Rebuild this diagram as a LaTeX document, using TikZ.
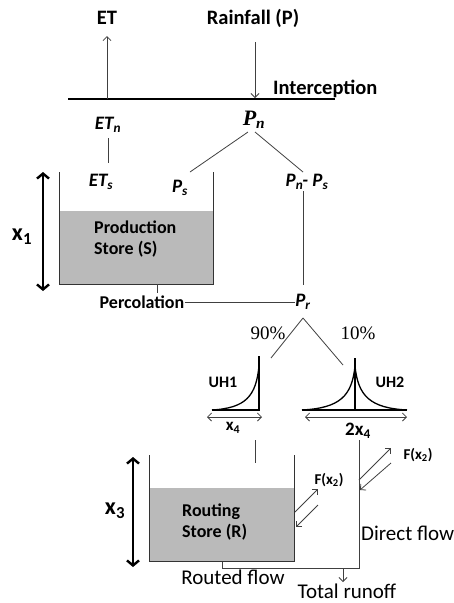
\documentclass[tikz,border=0pt]{standalone}
\usepackage{fontspec}
\setmainfont{Carlito}
\newfontfamily\serifmath{Liberation Serif}
\usetikzlibrary{arrows.meta}
\tikzset{
  lbl/.style={inner sep=0pt, font=\bfseries\fontsize{20.5}{23}\selectfont},
  mid/.style={inner sep=0pt, font=\bfseries\fontsize{18}{21}\selectfont},
  sml/.style={inner sep=0pt, font=\bfseries\fontsize{16}{18}\selectfont},
  big/.style={inner sep=0pt, font=\fontsize{21}{23}\selectfont},
  mth/.style={inner sep=0pt, font=\bfseries\itshape\fontsize{19}{21}\selectfont},
  smth/.style={inner sep=0pt, font=\serifmath\bfseries\itshape\fontsize{22}{24}\selectfont},
  pct/.style={inner sep=0pt, font=\serifmath\fontsize{19}{21}\selectfont},
  xl/.style={inner sep=0pt, font=\bfseries\fontsize{24}{26}\selectfont},
  ln/.style={draw=black!75, line width=0.8pt},
  arr/.style={ln, -{Straight Barb[length=4pt,width=8pt]}},
  darr/.style={ln, {Straight Barb[length=4pt,width=8pt]}-{Straight Barb[length=4pt,width=8pt]}},
  bigarr/.style={draw=black, line width=2.4pt, {Straight Barb[length=5pt,width=12pt]}-{Straight Barb[length=5pt,width=12pt]}},
  wall/.style={draw=black!80, line width=1pt},
  water/.style={fill=black!27},
  uh/.style={draw=black, line width=1.3pt}
}
\begin{document}
\begin{tikzpicture}[x=1pt,y=-1pt]
\useasboundingbox (0,0) rectangle (453,603);

% top
\node[lbl] (ET) at (107,18) {ET};
\node[lbl] (rain) at (253,18) {Rainfall (P)};
\coordinate (intL) at (68,99);
\coordinate (intR) at (335,99);
\draw[draw=black, line width=2.4pt] (intL) -- (intR);
\node[lbl, anchor=west] (intc) at (273,89) {Interception};
\coordinate (etBase) at (107,99);
\coordinate (etTip) at (107,36);
\draw[arr] (etBase) -- (etTip);
\coordinate (rainTop) at (255,42);
\coordinate (rainTip) at (255,98);
\draw[arr] (rainTop) -- (rainTip);

\node[mth] (ETn) at (108,125) {ET\textsubscript{n}};
\node[smth] (Pn) at (254,120) {P\textsubscript{n}};
\coordinate (etA) at (108,138);
\coordinate (etB) at (108,163);
\draw[ln] (etA) -- (etB);

\node[mth] (ETs) at (101,182) {ET\textsubscript{s}};
\node[mth] (Ps) at (180,188) {P\textsubscript{s}};
\node[mth] (PnPs) at (307,182) {P\textsubscript{n}\kern-1pt- P\textsubscript{s}};
\coordinate (pnL) at (248,132);
\coordinate (psT) at (190,172);
\coordinate (pnR) at (255,132);
\coordinate (pnpsT) at (303,172);
\draw[ln] (pnL) -- (psT);
\draw[ln] (pnR) -- (pnpsT);
\coordinate (pnpsB) at (303,191);
\coordinate (prT) at (303,285);
\draw[ln] (pnpsB) -- (prT);

% production store
\fill[water] (59,211) rectangle (213,284);
\draw[wall] (59,172) -- (59,284) -- (213,284) -- (213,172);
\node[mid, anchor=west, align=left] (prod) at (94,239) {Production\\Store (S)};
\coordinate (x1T) at (43,172);
\coordinate (x1B) at (43,291);
\draw[bigarr] (x1T) -- (x1B);
\node[xl] (x1) at (22,237) {x\textsubscript{1}};

% percolation
\coordinate (percA) at (157,284);
\coordinate (percB) at (157,293);
\draw[ln] (percA) -- (percB);
\node[mid] (perc) at (142,302) {Percolation};
\node[mth] (Pr) at (303,302) {P\textsubscript{r}};
\draw[ln] (perc.east) -- (Pr.west);

% split
\coordinate (prApex) at (303,318);
\coordinate (uh1T) at (271,358);
\coordinate (uh2T) at (343,365);
\draw[ln] (prApex) -- (uh1T);
\draw[ln] (prApex) -- (uh2T);
\node[pct] (p90) at (268,333) {90\%};
\node[pct] (p10) at (358,333) {10\%};

% UH1
\draw[uh] (212,410) -- (259,410) -- (259,356);
\draw[uh] (212,410) .. controls (246,408) and (256,396) .. (259,366);
\node[sml] (UH1) at (223,382) {UH1};
\coordinate (x4L) at (207,417);
\coordinate (x4R) at (262,417);
\draw[darr] (x4L) -- (x4R);
\node[inner sep=0pt, font=\bfseries\fontsize{17}{19}\selectfont] (x4) at (233,428) {x\textsubscript{4}};

% UH2
\draw[uh] (302,410) -- (407,410);
\draw[uh] (355,410) -- (355,358);
\draw[uh] (302,410) .. controls (340,408) and (352,396) .. (355,366)
              .. controls (358,396) and (370,408) .. (407,410);
\node[sml] (UH2) at (390,382) {UH2};
\coordinate (x42L) at (305,417);
\coordinate (x42R) at (407,417);
\draw[darr] (x42L) -- (x42R);
\node[inner sep=0pt, font=\bfseries\fontsize{19}{21}\selectfont] (x42) at (358,431) {2x\textsubscript{4}};

% flows down
\coordinate (uh1oA) at (255,440);
\coordinate (uh1oB) at (255,463);
\draw[ln] (uh1oA) -- (uh1oB);
\coordinate (dfT) at (359,440);
\coordinate (dfB) at (359,568);
\coordinate (rfA) at (222,561);
\coordinate (rfB) at (222,568);
\draw[ln] (dfT) -- (dfB) -- (rfB) -- (rfA);

% routing store
\fill[water] (149,488) rectangle (294,561);
\draw[wall] (149,455) -- (149,561) -- (294,561) -- (294,455);
\node[mid, anchor=west, align=left] (rout) at (182,522) {Routing\\Store (R)};
\coordinate (x3T) at (133,457);
\coordinate (x3B) at (133,567);
\draw[bigarr] (x3T) -- (x3B);
\node[xl] (x3) at (115,511) {x\textsubscript{3}};

% F(x2) exchanges
\coordinate (f1a) at (295,512);
\coordinate (f1b) at (318,489);
\coordinate (f1c) at (318,505);
\coordinate (f1d) at (296,527);
\draw[arr] (f1a) -- (f1b);
\draw[arr] (f1c) -- (f1d);
\node[inner sep=0pt, font=\bfseries\fontsize{15}{17}\selectfont] (F1) at (329,480) {F(x\textsubscript{2})};
\coordinate (f2a) at (359,480);
\coordinate (f2b) at (391,448);
\coordinate (f2c) at (391,463);
\coordinate (f2d) at (360,490);
\draw[arr] (f2a) -- (f2b);
\draw[arr] (f2c) -- (f2d);
\node[inner sep=0pt, font=\bfseries\fontsize{15}{17}\selectfont] (F2) at (418,455) {F(x\textsubscript{2})};

\node[big, anchor=west] (direct) at (361,533) {Direct flow};
\node[big] (routed) at (233,577) {Routed flow};
\coordinate (trA) at (343,568);
\coordinate (trB) at (343,582);
\draw[arr] (trA) -- (trB);
\node[big] (total) at (347,591) {Total runoff};
\end{tikzpicture}
\end{document}
